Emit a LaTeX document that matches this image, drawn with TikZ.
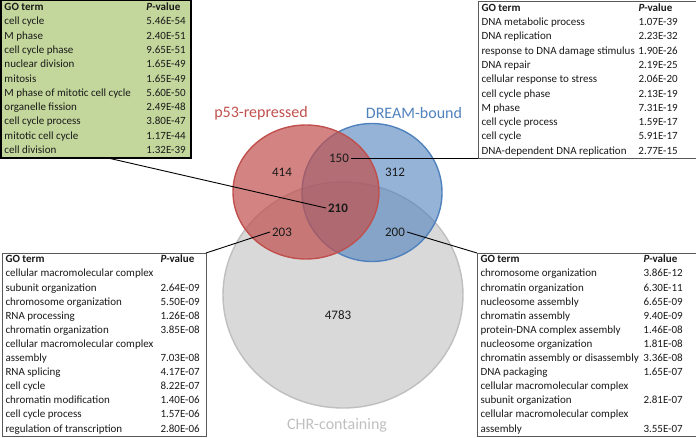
\documentclass[tikz,border=0pt]{standalone}
\usepackage{fontspec}
\setmainfont{Carlito}
\usepackage{array}
\definecolor{vred}{HTML}{C0504D}
\definecolor{vblue}{HTML}{4F81BD}
\definecolor{vgray}{HTML}{D9D9D9}
\definecolor{vgrayline}{HTML}{BFBFBF}
\definecolor{vgreen}{HTML}{C3D69B}
\definecolor{txt}{HTML}{1A1A1A}
\definecolor{boxline}{HTML}{595959}
\newcommand{\pval}{\textbf{\textit{P}-value}}
\begin{document}
\begin{tikzpicture}[x=1pt,y=-1pt,
  tbl/.style={anchor=north west, inner xsep=3.5pt, inner ysep=0pt, outer sep=0pt, text=txt},
  greybox/.style={tbl, draw=boxline, line width=0.9pt, fill=white},
  greenbox/.style={tbl, draw=black, line width=1.6pt, fill=vgreen},
  setlabel/.style={font=\fontsize{16}{19}\selectfont, inner sep=1pt},
  num/.style={font=\fontsize{13}{15}\selectfont, text=txt, inner sep=2pt},
  conn/.style={draw=black, line width=0.9pt}]
\useasboundingbox (0,0) rectangle (696,438);
% Venn ellipses
\draw[fill=vgray, draw=vgrayline, line width=1.4pt] (343,295) ellipse [x radius=120, y radius=113];
\draw[fill=vblue, fill opacity=0.6, draw=vblue, line width=1.4pt] (372,192.5) ellipse [x radius=70, y radius=69];
\draw[fill=vred, fill opacity=0.7, draw=vred, line width=1.4pt] (306,192) ellipse [x radius=73, y radius=67];
% set labels
\node[setlabel, text=vred] (lred) at (261,113) {p53-repressed};
\node[setlabel, text=vblue] (lblue) at (414,113) {DREAM-bound};
\node[setlabel, text=vgrayline] (lgray) at (337,425) {CHR-containing};
% numbers
\node[num] (n414) at (282,172) {414};
\node[num] (n150) at (339,158.5) {150};
\node[num] (n312) at (395,172) {312};
\node[num, font=\fontsize{13}{15}\selectfont\bfseries] (n210) at (338,208) {210};
\node[num] (n203) at (282,232) {203};
\node[num] (n200) at (395,232) {200};
\node[num] (n4783) at (338,315) {4783};
% tables
\node[greenbox] (tgreen) at (1,0.5) {\fontsize{11}{14.3}\selectfont
\begin{tabular}{@{}p{142pt}@{}p{41pt}@{}}
\textbf{GO term} & \pval\\
cell cycle & 5.46E-54\\
M phase & 2.40E-51\\
cell cycle phase & 9.65E-51\\
nuclear division & 1.65E-49\\
mitosis & 1.65E-49\\
M phase of mitotic cell cycle & 5.60E-50\\
organelle fission & 2.49E-48\\
cell cycle process & 3.80E-47\\
mitotic cell cycle & 1.17E-44\\
cell division & 1.32E-39
\end{tabular}};
\node[greybox] (ttr) at (478,1.2) {\fontsize{11}{14.3}\selectfont
\begin{tabular}{@{}p{157pt}@{}p{62pt}@{}}
\textbf{GO term} & \pval\\
DNA metabolic process & 1.07E-39\\
DNA replication & 2.23E-32\\
response to DNA damage stimulus & 1.90E-26\\
DNA repair & 2.19E-25\\
cellular response to stress & 2.06E-20\\
cell cycle phase & 2.13E-19\\
M phase & 7.31E-19\\
cell cycle process & 1.59E-17\\
cell cycle & 5.91E-17\\
DNA-dependent DNA replication & 2.77E-15
\end{tabular}};
\node[greybox] (tbl) at (2,253) {\fontsize{11}{14.1}\selectfont
\begin{tabular}{@{}p{155pt}@{}p{42pt}@{}}
\textbf{GO term} & \pval\\
cellular macromolecular complex & \\
subunit organization & 2.64E-09\\
chromosome organization & 5.50E-09\\
RNA processing & 1.26E-08\\
chromatin organization & 3.85E-08\\
cellular macromolecular complex & \\
assembly & 7.03E-08\\
RNA splicing & 4.17E-07\\
cell cycle & 8.22E-07\\
chromatin modification & 1.40E-06\\
cell cycle process & 1.57E-06\\
regulation of transcription & 2.80E-06
\end{tabular}};
\node[greybox] (tbr) at (477,253) {\fontsize{11}{14.1}\selectfont
\begin{tabular}{@{}p{163pt}@{}p{62pt}@{}}
\textbf{GO term} & \pval\\
chromosome organization & 3.86E-12\\
chromatin organization & 6.30E-11\\
nucleosome assembly & 6.65E-09\\
chromatin assembly & 9.40E-09\\
protein-DNA complex assembly & 1.46E-08\\
nucleosome organization & 1.81E-08\\
chromatin assembly or disassembly & 3.36E-08\\
DNA packaging & 1.65E-07\\
cellular macromolecular complex & \\
subunit organization & 2.81E-07\\
cellular macromolecular complex & \\
assembly & 3.55E-07
\end{tabular}};
% connectors
\coordinate (cg) at (107,157.8);
\draw[conn] (cg) -- (n210.west);
\draw[conn] (n150.east) -- (ttr.south west);
\draw[conn] (n203.west) -- (tbl.north east);
\draw[conn] (n200.east) -- (tbr.north west);
\end{tikzpicture}
\end{document}
